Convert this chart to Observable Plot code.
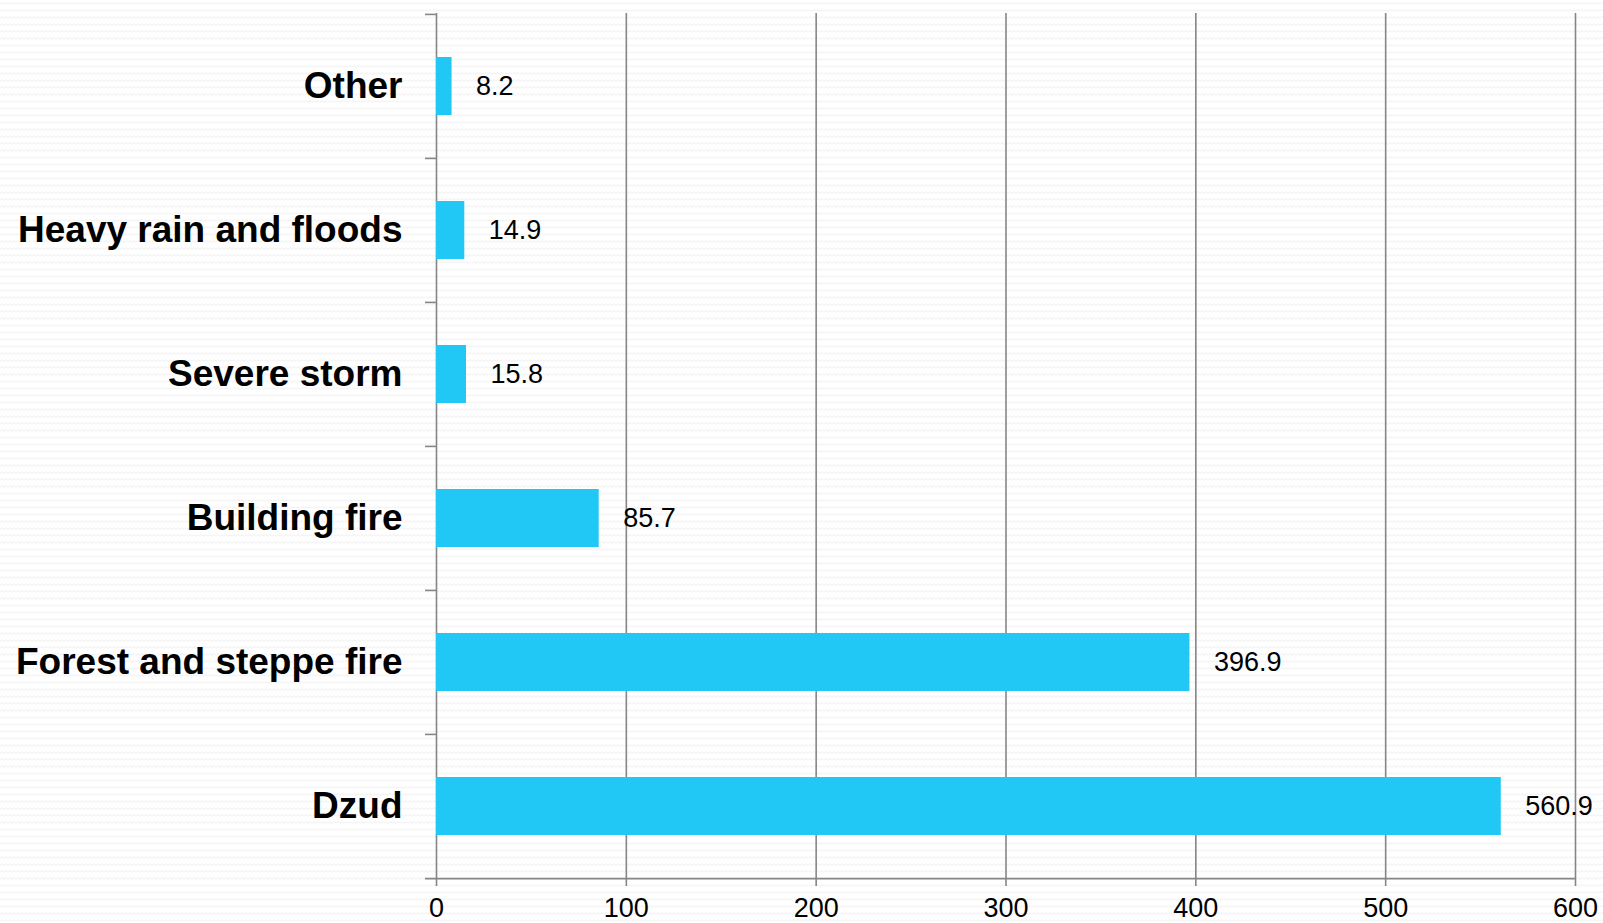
<!DOCTYPE html>
<html><head><meta charset="utf-8">
<script src="https://cdn.jsdelivr.net/npm/d3@7"></script>
<script src="https://cdn.jsdelivr.net/npm/@observablehq/plot@0.6"></script>
<style>
html,body{margin:0;padding:0;overflow:hidden;background-color:#fff;}
body{background-image:url("data:image/svg+xml,%3Csvg xmlns='http://www.w3.org/2000/svg' width='8' height='7'%3E%3Cpath d='M0 4.5 L2 2.5 L4 4.5 L6 2.5 L8 4.5' fill='none' stroke='%23ececec' stroke-width='1'/%3E%3C/svg%3E");}
</style></head><body><div id="chart"></div>
<script>
const categories = ["Other","Heavy rain and floods","Severe storm","Building fire","Forest and steppe fire","Dzud"];
const values = [8.2,14.9,15.8,85.7,396.9,560.9];
const xTicks = [0,100,200,300,400,500,600];
const data = categories.map((c,i)=>({category:c, value:values[i]}));

const W=1603, H=923, mL=436, mR=28, mT=13, mB=45;
const step = (H-mT-mB)/categories.length;
const plotW = W-mL-mR;
const grey="#868686";
const chart = Plot.plot({
  width:W, height:H, marginLeft:mL, marginRight:mR, marginTop:mT, marginBottom:mB,
  style:{fontFamily:"'Liberation Sans', Arial, sans-serif", background:"transparent", color:"#000", overflow:"visible"},
  x:{domain:[0,600], ticks:xTicks, label:null},
  y:{domain:categories, paddingInner:0.6, paddingOuter:0.3, label:null},
  marks:[
    Plot.gridX({ticks:xTicks.slice(1), stroke:grey, strokeOpacity:1, strokeWidth:1.6}),
    Plot.ruleX([0], {stroke:grey, strokeWidth:1.6}),
    Plot.ruleY(categories, {y:d=>d, dy:-step/2, dx:-11, insetRight:plotW-11, stroke:grey, strokeWidth:1.6}),
    Plot.ruleY([categories[categories.length-1]], {y:d=>d, dy:step/2, dx:-11, insetRight:-11, stroke:grey, strokeWidth:1.6}),
    Plot.barX(data, {x:"value", y:"category", fill:"#22C8F5"}),
    Plot.text(data, {x:"value", y:"category", text:d=>d.value.toFixed(1), textAnchor:"start", dx:24, fontSize:27, fill:"#000"}),
    Plot.axisX({ticks:xTicks, tickSize:8, tickPadding:11, fontSize:27, stroke:grey, strokeWidth:1.6, label:null, tickFormat:d=>String(d)}),
    Plot.axisY({tickSize:0, tickPadding:34, fontSize:37, fontWeight:"bold", label:null})
  ]
});
document.getElementById("chart").appendChild(chart);
</script>
</body></html>
